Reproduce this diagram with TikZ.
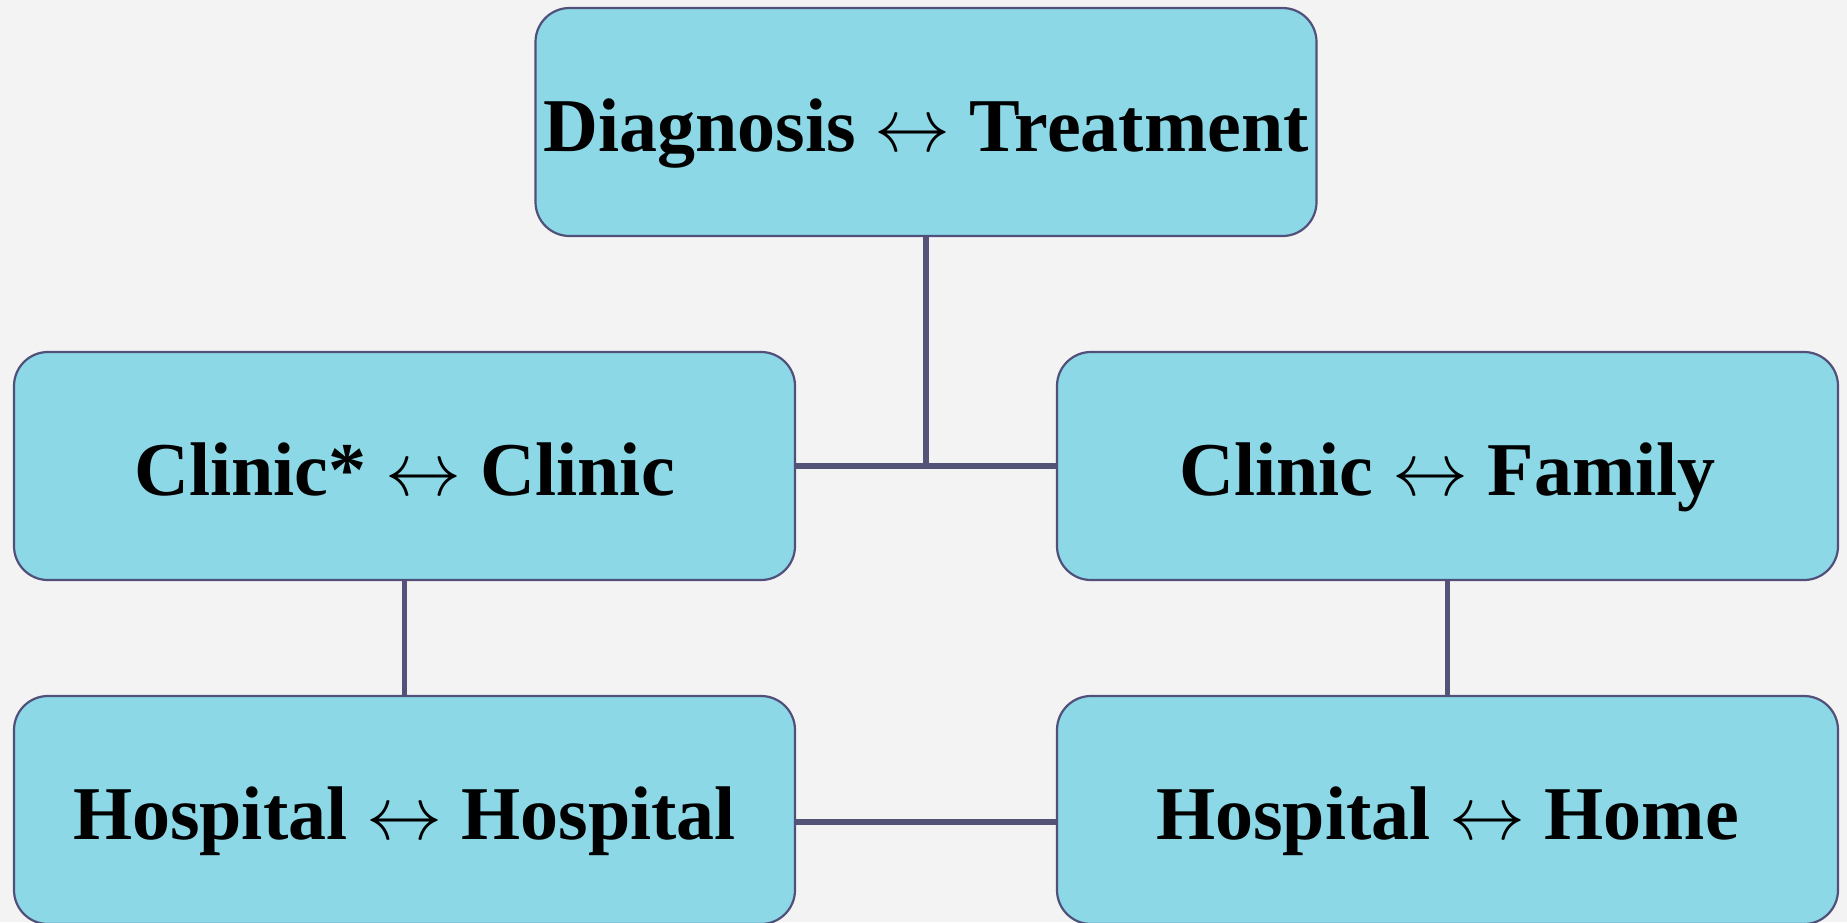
\RequirePackage{fix-cm}
\documentclass[tikz,border=0pt]{standalone}
\usepackage{fontspec}
\setmainfont{Liberation Serif}
\newcommand{\lra}{\ensuremath{\leftrightarrow}}
\begin{document}
\begin{tikzpicture}[x=0.5pt,y=-0.5pt,
  box/.style={draw=boxline,line width=1.1pt,fill=boxfill,rounded corners=17pt,
    minimum width=390.5pt,minimum height=114pt,inner sep=0pt,
    text height=29pt,text depth=0pt,
    font=\fontsize{38}{44}\selectfont\bfseries},
  link/.style={draw=linkcol,line width=2.8pt}]
\definecolor{boxfill}{HTML}{8CD8E7}
\definecolor{boxline}{HTML}{50507A}
\definecolor{linkcol}{HTML}{535377}
\definecolor{bg}{HTML}{F3F3F3}
\fill[bg] (0,0) rectangle (1847,922);
\useasboundingbox (0,0) rectangle (1847,922);
\node[box] (top) at (926,122) {Diagnosis \lra{} Treatment};
\node[box] (ml) at (404.5,466) {Clinic* \lra{} Clinic};
\node[box] (mr) at (1447.5,466) {Clinic \lra{} Family};
\node[box] (bl) at (404.5,810) {Hospital \lra{} Hospital};
\node[box] (br) at (1447.5,810) {Hospital \lra{} Home};
\coordinate (j) at (926,465);
\draw[link] (top.south) -- (j);
\draw[link] (ml.east) -- (mr.west);
\draw[link] (ml.south) -- (bl.north);
\draw[link] (mr.south) -- (br.north);
\draw[link] ([yshift=-6pt]bl.east) -- ([yshift=-6pt]br.west);
\end{tikzpicture}
\end{document}
